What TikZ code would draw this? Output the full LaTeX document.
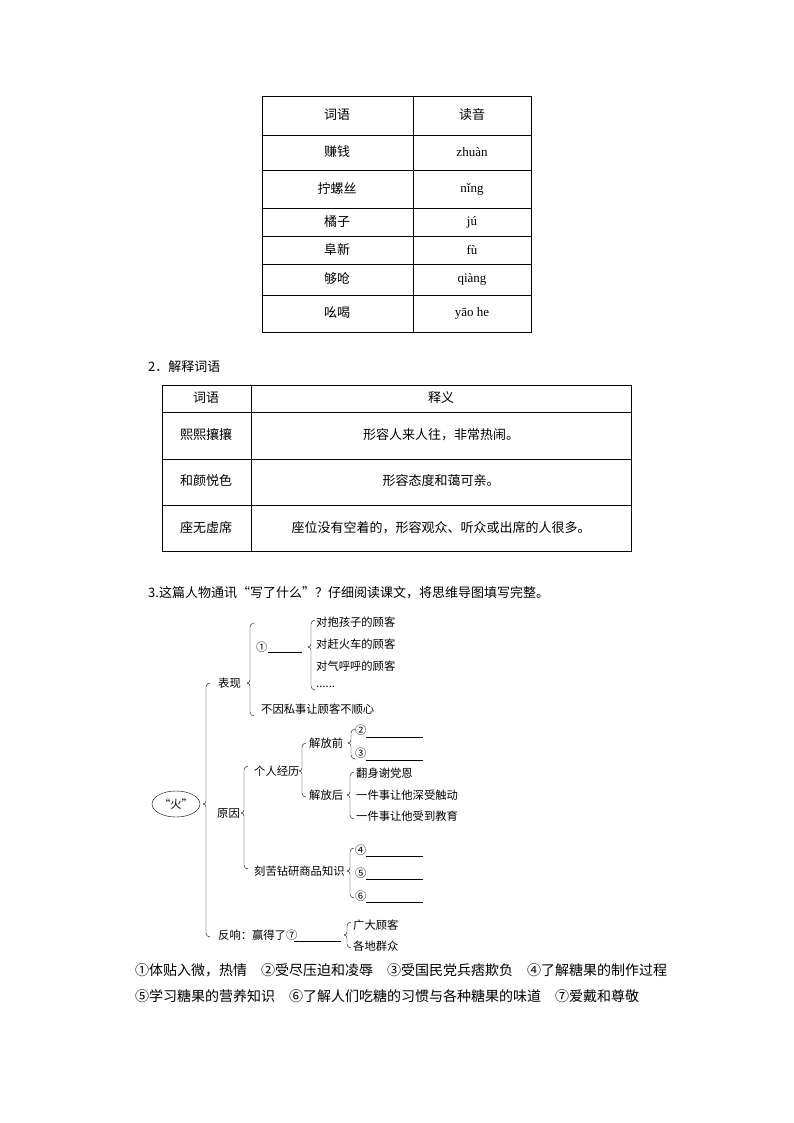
\documentclass[tikz,border=0pt]{standalone}
\usepackage{fontspec}
\setmainfont{Liberation Serif}
\newfontfamily\cjk{Noto Sans CJK SC}
\usetikzlibrary{shapes.geometric}
\newcommand{\lbr}[3]{\draw[thin] (#1+4,#2) to[out=180,in=90] (#1,#2+4) -- (#1,#3-3) to[out=-90,in=0] (#1-3,#3);
 \draw[thin] (#1-3,#3) to[out=0,in=90] (#1,#3+3)}
\newcommand{\lbrend}[1]{-- (\tmpx,#1-4) to[out=-90,in=180] (\tmpx+4,#1);}
\begin{document}
\begin{tikzpicture}[x=1pt,y=-1pt,
  t/.style={font=\cjk\fontsize{13}{13}\selectfont,inner sep=0pt},
  m/.style={font=\cjk\fontsize{11.3}{11.3}\selectfont,inner sep=0pt,anchor=west},
  ln/.style={line width=0.5pt}]
\useasboundingbox (0,0) rectangle (794,1123);
% table 1
\draw[ln] (262,96) rectangle (531,332);
\draw[ln] (413,96) -- (413,332);
\foreach \y in {135,170,208,236,264,295} \draw[ln] (262,\y) -- (531,\y);
\node[t] (la) at (337,115) {词语}; \node[t] (ra) at (472,115) {读音};
\foreach \a/\b/\y/\n in {赚钱/zhuàn/152/b,拧螺丝/nǐng/189/c,橘子/jú/222/d,阜新/fù/250/e,够呛/qiàng/279/f,吆喝/yāo he/313/g}{
 \node[t] (l\n) at (337,\y) {\a}; \node[t,font=\fontsize{13}{13}\selectfont] (r\n) at (472,\y) {\b};}
% table 2
\node[t,anchor=west] (h2) at (148,367) {2．解释词语};
\draw[ln] (162,385) rectangle (631,551);
\draw[ln] (251,385) -- (251,551);
\foreach \y in {412,459,505} \draw[ln] (162,\y) -- (631,\y);
\node[t] (s1) at (206,398) {词语}; \node[t] (s2) at (441,398) {释义};
\node[t] (s3) at (206,435) {熙熙攘攘}; \node[t] (s4) at (441,435) {形容人来人往，非常热闹。};
\node[t] (s5) at (206,481) {和颜悦色}; \node[t] (s6) at (441,481) {形容态度和蔼可亲。};
\node[t] (s7) at (206,528) {座无虚席}; \node[t] (s8) at (441,528) {座位没有空着的，形容观众、听众或出席的人很多。};
\node[t,anchor=west] (h3) at (148,593) {3.这篇人物通讯“写了什么”？仔细阅读课文，将思维导图填写完整。};
% mind map
\node[draw,ellipse,minimum width=48,minimum height=26,m,anchor=center] (fire) at (176,804) {“火”};
\def\tmpx{206}\lbr{206}{683}{804} \lbrend{937}
\node[m] (bx) at (218,683) {表现};
\def\tmpx{250}\lbr{250}{623}{683} \lbrend{716}
\node[m] (c1) at (256,647) {①};
\draw[ln] (268,652) -- (302,652);
\def\tmpx{311}\lbr{311}{620}{647} \lbrend{690}
\node[m] (i1) at (316,622) {对抱孩子的顾客};
\node[m] (i2) at (316,644) {对赶火车的顾客};
\node[m] (i3) at (316,666) {对气呼呼的顾客};
\node[m] (i4) at (316,687) {......};
\node[m] (i5) at (261,709) {不因私事让顾客不顺心};
\node[m] (yy) at (217,813) {原因};
\def\tmpx{244}\lbr{244}{766}{813} \lbrend{869}
\node[m] (gr) at (254,771) {个人经历};
\def\tmpx{302}\lbr{302}{743}{771} \lbrend{797}
\node[m] (jq) at (309,743) {解放前};
\def\tmpx{351}\lbr{351}{729}{743} \lbrend{759}
\node[m] (c2) at (355,730) {②}; \draw[ln] (366,737) -- (423,737);
\node[m] (c3) at (355,753) {③}; \draw[ln] (366,760) -- (423,760);
\node[m] (jh) at (309,795) {解放后};
\def\tmpx{350}\lbr{350}{772}{795} \lbrend{819}
\node[m] (h1) at (356,773) {翻身谢党恩};
\node[m] (h2b) at (356,795) {一件事让他深受触动};
\node[m] (h3b) at (356,816) {一件事让他受到教育};
\node[m] (kk) at (254,871) {刻苦钻研商品知识};
\def\tmpx{350}\lbr{350}{848}{871} \lbrend{898}
\node[m] (c4) at (355,850) {④}; \draw[ln] (366,856) -- (423,856);
\node[m] (c5) at (355,873) {⑤}; \draw[ln] (366,879) -- (423,879);
\node[m] (c6) at (355,896) {⑥}; \draw[ln] (366,902) -- (423,902);
\node[m] (fx) at (218,935) {反响：赢得了⑦};
\draw[ln] (294,941) -- (341,941);
\def\tmpx{347}\lbr{347}{922}{935} \lbrend{948}
\node[m] (g1) at (353,925) {广大顾客};
\node[m] (g2) at (353,946) {各地群众};
\node[t,anchor=west,font=\cjk\fontsize{14}{14}\selectfont] (a1) at (135,970) {①体贴入微，热情\quad ②受尽压迫和凌辱\quad ③受国民党兵痞欺负\quad ④了解糖果的制作过程};
\node[t,anchor=west,font=\cjk\fontsize{14}{14}\selectfont] (a2) at (135,996) {⑤学习糖果的营养知识\quad ⑥了解人们吃糖的习惯与各种糖果的味道\quad ⑦爱戴和尊敬};
\end{tikzpicture}
\end{document}
